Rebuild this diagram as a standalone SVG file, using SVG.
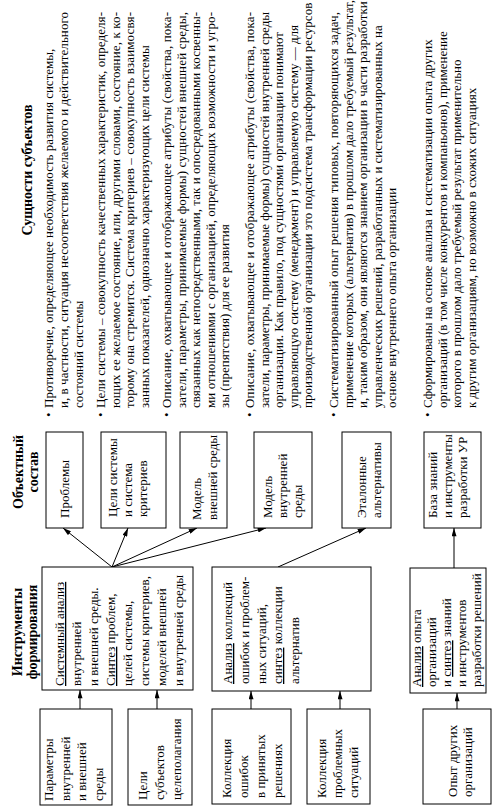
<svg xmlns="http://www.w3.org/2000/svg" width="503" height="812" viewBox="0 0 503 812">
<style>
text{font-family:"Liberation Serif","Times New Roman",serif;font-size:13px;fill:#000}
.h{font-weight:bold;font-size:14px;text-anchor:middle}
.u{text-decoration:underline}
rect{fill:#fff;stroke:#000;stroke-width:1}
.c line{stroke:#000;stroke-width:1;marker-end:url(#ah)}
</style>
<defs>
<marker id="ah" viewBox="0 0 10 6" refX="10" refY="3" markerWidth="9" markerHeight="5" markerUnits="userSpaceOnUse" orient="auto"><path d="M0,0 L10,3 L0,6 z" fill="#000"/></marker>
</defs>
<rect x="0" y="0" width="503" height="812" style="stroke:none"/>
<g transform="translate(0,812) rotate(-90)">
<g id="headings">
<text class="h" x="180" y="22">Инструменты</text>
<text class="h" x="180" y="37">формирования</text>
<text class="h" x="340" y="23">Объектный</text>
<text class="h" x="340" y="38">состав</text>
<text class="h" x="642" y="32">Сущности субъектов</text>
</g>
<g class="c" id="connectors">
<line x1="103" y1="80" x2="122" y2="80"/>
<line x1="103" y1="157" x2="122" y2="157"/>
<line x1="103" y1="251" x2="121" y2="251"/>
<line x1="103" y1="340" x2="121" y2="340"/>
<line x1="103" y1="457" x2="119" y2="457"/>
<line x1="245" y1="112" x2="284" y2="63"/>
<line x1="245" y1="112" x2="284" y2="128"/>
<line x1="245" y1="112" x2="284" y2="197"/>
<line x1="245" y1="112" x2="284" y2="266"/>
<line x1="245" y1="278" x2="284" y2="366"/>
<line x1="244" y1="454" x2="284" y2="454"/>
</g>
<g id="n_params"><rect x="7" y="40" width="96" height="72"/>
<text x="11" y="53">Параметры</text><text x="11" y="69.5">внутренней</text><text x="11" y="86">и внешней</text><text x="11" y="102.5">среды</text></g>
<g id="n_goals_subj"><rect x="7" y="128" width="96" height="64"/>
<text x="12" y="147">Цели</text><text x="12" y="164">субъектов</text><text x="12" y="181">целеполагания</text></g>
<g id="n_errors"><rect x="8" y="212" width="95" height="79"/>
<text x="14" y="231">Коллекция</text><text x="14" y="248">ошибок</text><text x="14" y="265">в принятых</text><text x="14" y="282">решениях</text></g>
<g id="n_probcoll"><rect x="8" y="307" width="95" height="63"/>
<text x="14" y="326">Коллекция</text><text x="14" y="342">проблемных</text><text x="14" y="358">ситуаций</text></g>
<g id="n_experience"><rect x="8" y="423" width="95" height="68"/>
<text x="15" y="457">Опыт других</text><text x="15" y="472">организаций</text></g>
<g id="n_sysanalysis"><rect x="122" y="42" width="123" height="151"/>
<text x="126" y="64"><tspan class="u">Системный анализ</tspan></text>
<text x="126" y="81">внутренней</text>
<text x="126" y="98">и внешней среды.</text>
<text x="126" y="115"><tspan class="u">Синтез</tspan> проблем,</text>
<text x="126" y="132">целей системы,</text>
<text x="126" y="149">системы критериев,</text>
<text x="126" y="166">моделей внешней</text>
<text x="126" y="183">и внутренней среды</text></g>
<g id="n_collanalysis"><rect x="121" y="212" width="124" height="159"/>
<text x="128" y="232"><tspan class="u">Анализ</tspan>  коллекций</text>
<text x="128" y="249">ошибок и проблем-</text>
<text x="128" y="265.5">ных ситуаций,</text>
<text x="128" y="282"><tspan class="u">синтез</tspan> коллекции</text>
<text x="128" y="298.5">альтернатив</text></g>
<g id="n_expanalysis"><rect x="119" y="410" width="125" height="76"/>
<text x="125" y="421"><tspan class="u">Анализ</tspan> опыта</text>
<text x="125" y="436">организаций</text>
<text x="125" y="451">и <tspan class="u">синтез</tspan> знаний</text>
<text x="125" y="466">и инструментов</text>
<text x="125" y="481">разработки решений</text></g>
<g id="n_problems"><rect x="284" y="46" width="96" height="37"/>
<text x="294" y="69">Проблемы</text></g>
<g id="n_goals"><rect x="284" y="101" width="96" height="65"/>
<text x="295" y="117">Цели системы</text><text x="295" y="132">и система</text><text x="295" y="147">критериев</text></g>
<g id="n_extmodel"><rect x="284" y="180" width="96" height="47"/>
<text x="292" y="201">Модель</text><text x="292" y="217">внешней среды</text></g>
<g id="n_intmodel"><rect x="284" y="254" width="96" height="58"/>
<text x="294" y="272">Модель</text><text x="294" y="287">внутренней</text><text x="294" y="302">среды</text></g>
<g id="n_reference"><rect x="284" y="342" width="96" height="49"/>
<text x="294" y="366">Эталонные</text><text x="294" y="381">альтернативы</text></g>
<g id="n_kb"><rect x="284" y="424" width="96" height="57"/>
<text x="294" y="437">База знаний</text><text x="294" y="452">и инструменты</text><text x="294" y="467">разработки УР</text></g>
<g id="d_problems">
<text x="395" y="53">•</text>
<text x="404" y="53">Противоречие, определяющее необходимость развития системы,</text>
<text x="404" y="68" textLength="396" lengthAdjust="spacing">и, в частности, ситуация несоответствия желаемого и действительного</text>
<text x="404" y="83">состояний системы</text></g>
<g id="d_goals">
<text x="395" y="105">•</text>
<text x="404" y="105" textLength="396" lengthAdjust="spacing">Цели системы – совокупность качественных характеристик, определя-</text>
<text x="404" y="119.7" textLength="396" lengthAdjust="spacing">ющих ее желаемое состояние, или, другими словами, состояние, к ко-</text>
<text x="404" y="134.4" textLength="396" lengthAdjust="spacing">торому она стремится. Система критериев – совокупность взаимосвя-</text>
<text x="404" y="149">занных показателей, однозначно характеризующих цели системы</text></g>
<g id="d_extmodel">
<text x="395" y="171">•</text>
<text x="404" y="171" textLength="396" lengthAdjust="spacing">Описание, охватывающее и отображающее атрибуты (свойства, пока-</text>
<text x="404" y="185.5" textLength="396" lengthAdjust="spacing">затели, параметры, принимаемые формы) сущностей внешней среды,</text>
<text x="404" y="200" textLength="396" lengthAdjust="spacing">связанных как непосредственными, так и опосредованными косвенны-</text>
<text x="404" y="214.5" textLength="396" lengthAdjust="spacing">ми отношениями с организацией, определяющих возможности и угро-</text>
<text x="404" y="229">зы (препятствия) для ее развития</text></g>
<g id="d_intmodel">
<text x="395" y="254">•</text>
<text x="404" y="254" textLength="396" lengthAdjust="spacing">Описание, охватывающее и отображающее атрибуты (свойства, пока-</text>
<text x="404" y="268.5" textLength="396" lengthAdjust="spacing">затели, параметры, принимаемые формы) сущностей внутренней среды</text>
<text x="404" y="283">организации. Как правило, под сущностями организации понимают</text>
<text x="404" y="297.5">управляющую систему (менеджмент) и управляемую систему — для</text>
<text x="404" y="312">производственной организации это подсистема трансформации ресурсов</text></g>
<g id="d_reference">
<text x="395" y="338">•</text>
<text x="404" y="338" textLength="396" lengthAdjust="spacing">Систематизированный опыт решения типовых, повторяющихся задач,</text>
<text x="404" y="352.5">применение которых (альтернатив) в прошлом дало требуемый результат,</text>
<text x="404" y="367">и, таким образом, они являются знанием организации в части разработки</text>
<text x="404" y="381.5">управленческих решений, разработанных и систематизированных на</text>
<text x="404" y="396">основе внутреннего опыта организации</text></g>
<g id="d_kb">
<text x="395" y="432">•</text>
<text x="404" y="432">Сформированы на основе анализа и систематизации опыта других</text>
<text x="404" y="446.5">организаций (в том числе конкурентов и компаньонов), применение</text>
<text x="404" y="461">которого в прошлом дало требуемый результат  применительно</text>
<text x="404" y="475.5">к другим организациям, но возможно в схожих ситуациях</text></g>
</g>
</svg>
